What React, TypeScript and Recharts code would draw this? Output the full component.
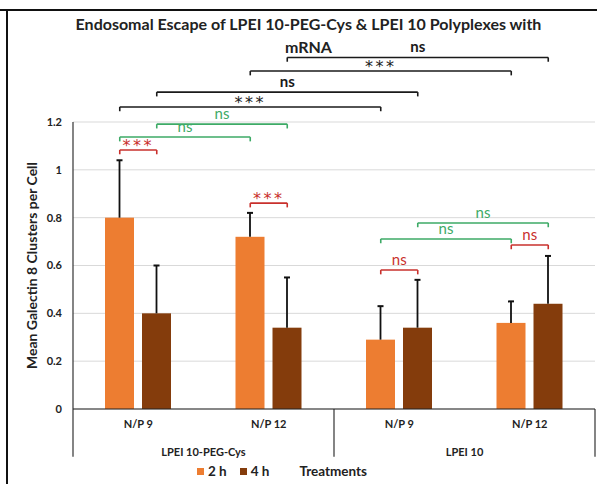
import React from 'react';
import { BarChart, Bar, XAxis, YAxis, CartesianGrid, ReferenceLine } from 'recharts';

// --- data ---
const categories = ['N/P 9', 'N/P 12', 'N/P 9', 'N/P 12'];
const groups = ['LPEI 10-PEG-Cys', 'LPEI 10'];
const categoryGroup = [0, 0, 1, 1];
const seriesNames = ['2 h', '4 h'];
const mean2h = [0.8, 0.72, 0.29, 0.36];
const err2h = [0.24, 0.1, 0.14, 0.09];
const mean4h = [0.4, 0.34, 0.34, 0.44];
const err4h = [0.2, 0.21, 0.2, 0.2];
const yTicks = [0, 0.2, 0.4, 0.6, 0.8, 1, 1.2];
const axisTitle = 'Mean Galectin 8 Clusters per Cell';
const legendTitle = 'Treatments';
const titleLines = ['Endosomal Escape of LPEI 10-PEG-Cys & LPEI 10 Polyplexes with', 'mRNA'];

// significance brackets: from [category, series] to [category, series], label, level (y units), tone
const bracketFrom = [[1, 1], [1, 0], [0, 1], [0, 0], [0, 1], [0, 0], [2, 1], [2, 0], [0, 0], [1, 0], [3, 0], [2, 0]];
const bracketTo = [[3, 1], [3, 0], [2, 1], [2, 0], [1, 1], [1, 0], [3, 1], [3, 0], [0, 1], [1, 1], [3, 1], [2, 1]];
const bracketLabels = ['ns', '***', 'ns', '***', 'ns', 'ns', 'ns', 'ns', '***', '***', 'ns', 'ns'];
const bracketLevels = [1.47, 1.413, 1.325, 1.263, 1.191, 1.137, 0.778, 0.711, 1.083, 0.861, 0.686, 0.581];
const bracketTones = ['k', 'k', 'k', 'k', 'g', 'g', 'g', 'g', 'r', 'r', 'r', 'r'];

// --- layout / style ---
const W = 606;
const H = 484;
const MARGIN = { top: 122, right: 11, left: 0, bottom: 21 };
const Y_AXIS_W = 73;
const PLOT_W = W - MARGIN.left - MARGIN.right - Y_AXIS_W;
const BAR_SIZE = 29;
const BAR_GAP = 8;
const HOOK = 0.018;
const SEP_DEPTH = -0.2;
const FONT = 'Lato, "Open Sans", sans-serif';
const STAR_FONT = '"DejaVu Sans", sans-serif';
const ORANGE = '#ED7D31';
const BROWN = '#843C0C';
const seriesColors = [ORANGE, BROWN];
const toneColor: Record<string, string> = { k: '#1a1a1a', g: '#3DAA66', r: '#C9302C' };

const data = categories.map((c, i) => ({
  key: groups[categoryGroup[i]] + '|' + c,
  pos: i + 0.5,
  m2: mean2h[i],
  e2: err2h[i],
  m4: mean4h[i],
  e4: err4h[i],
}));

// bar center in units of the hidden numeric axis (one unit per category)
const barOffset = (BAR_SIZE + BAR_GAP) / 2 / (PLOT_W / categories.length);
const barX = (cat: number, s: number) => cat + 0.5 + (s === 0 ? -barOffset : barOffset);

const makeShape = (meanKey: string, errKey: string) => (props: any) => {
  const { x, y, width, height, fill, payload } = props;
  const pxPerUnit = height / payload[meanKey];
  const top = y - payload[errKey] * pxPerUnit;
  const cx = x + width / 2;
  return (
    <g>
      <rect x={x} y={y} width={width} height={height} fill={fill} />
      <line x1={cx} y1={y} x2={cx} y2={top} stroke="#111" strokeWidth={1.8} />
      <line x1={cx - 3} y1={top} x2={cx + 3} y2={top} stroke="#111" strokeWidth={2} />
    </g>
  );
};

export default function App() {
  return (
    <div style={{ position: 'relative', width: W, height: H, background: '#fff', fontFamily: FONT }}>
      <style>{'body{margin:0}'}</style>
      {/* frame of the original screenshot */}
      <div style={{ position: 'absolute', left: 0, top: 9, width: 597, height: 2, background: '#111' }} />
      <div style={{ position: 'absolute', left: 6, top: 9, width: 2, height: H - 9, background: '#111' }} />

      {titleLines.map((t, i) => (
        <div
          key={i}
          style={{
            position: 'absolute', left: 0, top: 12 + i * 23, width: 617, textAlign: 'center',
            fontWeight: 700, fontSize: 16, lineHeight: '23px', color: '#222', pointerEvents: 'none',
          }}
        >
          <span>{t}</span>
        </div>
      ))}

      <BarChart width={W} height={H} data={data} margin={MARGIN} barSize={BAR_SIZE} barGap={BAR_GAP}>
        <CartesianGrid vertical={false} stroke="#D9D9D9" />
        <XAxis
          dataKey="key"
          axisLine={{ stroke: '#222', strokeWidth: 1.2 }}
          tickLine={false}
          height={28}
          tickMargin={5}
          interval={0}
          tickFormatter={(v: string) => v.split('|')[1]}
          tick={{ fontSize: 11, fontWeight: 700, fill: '#222', fontFamily: FONT }}
        />
        <XAxis
          xAxisId="num"
          type="number"
          dataKey="pos"
          domain={[0, categories.length]}
          ticks={groups.map((_, g) => g * 2 + 1)}
          tickFormatter={(v: number) => groups[(v - 1) / 2]}
          axisLine={false}
          tickLine={false}
          height={26}
          tickMargin={5}
          interval={0}
          tick={{ fontSize: 11, fontWeight: 700, fill: '#222', fontFamily: FONT }}
        />
        <YAxis
          domain={[0, 1.2]}
          ticks={yTicks}
          width={Y_AXIS_W}
          axisLine={{ stroke: '#333', strokeWidth: 1.2 }}
          tickLine={false}
          tickMargin={5}
          tick={{ fontSize: 11, fontWeight: 700, fill: '#222', fontFamily: FONT }}
          label={{
            value: axisTitle, angle: -90, position: 'center', dx: -4,
            style: { fontSize: 14, fontWeight: 700, fill: '#222', fontFamily: FONT, textAnchor: 'middle' },
          }}
        />
        <Bar dataKey="m2" name={seriesNames[0]} fill={seriesColors[0]} isAnimationActive={false} shape={makeShape('m2', 'e2')} />
        <Bar dataKey="m4" name={seriesNames[1]} fill={seriesColors[1]} isAnimationActive={false} shape={makeShape('m4', 'e4')} />

        {/* group separators below the axis */}
        {[0, 2, 4].map((x) => (
          <ReferenceLine
            key={'sep' + x}
            xAxisId="num"
            ifOverflow="visible"
            segment={[{ x, y: 0 }, { x, y: SEP_DEPTH }]}
            stroke="#333"
            strokeWidth={1.2}
          />
        ))}

        {bracketLabels.map((lbl, i) => {
          const x1 = barX(bracketFrom[i][0], bracketFrom[i][1]);
          const x2 = barX(bracketTo[i][0], bracketTo[i][1]);
          const lv = bracketLevels[i];
          const color = toneColor[bracketTones[i]];
          const stars = lbl === '***';
          return (
            <React.Fragment key={'br' + i}>
              <ReferenceLine
                xAxisId="num"
                ifOverflow="visible"
                segment={[{ x: x1, y: lv }, { x: x2, y: lv }]}
                stroke={color}
                strokeWidth={1.6}
                label={{
                  value: lbl, position: 'top', offset: stars ? -1 : 5, fill: color,
                  fontSize: stars ? 16 : 15, fontFamily: stars ? STAR_FONT : FONT,
                  fontWeight: bracketTones[i] === 'k' && !stars ? 700 : 400,
                  letterSpacing: stars ? 2.5 : 0,
                }}
              />
              <ReferenceLine xAxisId="num" ifOverflow="visible" segment={[{ x: x1, y: lv }, { x: x1, y: lv - HOOK }]} stroke={color} strokeWidth={1.6} />
              <ReferenceLine xAxisId="num" ifOverflow="visible" segment={[{ x: x2, y: lv }, { x: x2, y: lv - HOOK }]} stroke={color} strokeWidth={1.6} />
            </React.Fragment>
          );
        })}
      </BarChart>

      <div
        style={{
          position: 'absolute', left: 197, top: 461, display: 'flex', alignItems: 'center',
          fontSize: 13.5, fontWeight: 700, color: '#222', lineHeight: '20px',
        }}
      >
        {seriesNames.map((n, i) => (
          <span key={n} style={{ display: 'flex', alignItems: 'center', marginRight: i === 0 ? 13 : 30 }}>
            <span style={{ width: 7, height: 7, background: seriesColors[i], marginRight: 4 }} />
            {n}
          </span>
        ))}
        <span>{legendTitle}</span>
      </div>
    </div>
  );
}
